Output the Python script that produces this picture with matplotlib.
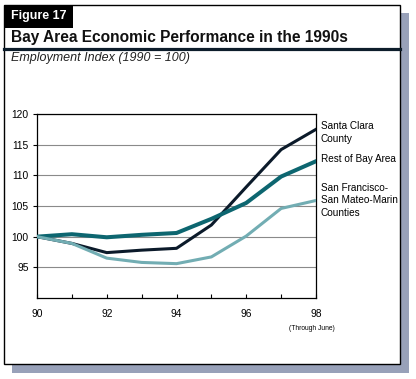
import matplotlib
matplotlib.use("Agg")
from matplotlib import pyplot as plt
from matplotlib.patches import Rectangle
from matplotlib.lines import Line2D

plt.rcParams['font.family'] = ['Liberation Sans', 'DejaVu Sans']

years = [90, 91, 92, 93, 94, 95, 96, 97, 98]
santa_clara = [100, 98.9, 97.4, 97.8, 98.1, 101.9, 108.1, 114.2, 117.5]
rest_bay = [100, 100.4, 99.9, 100.3, 100.6, 102.9, 105.5, 109.8, 112.3]
sf_sm_marin = [100, 98.9, 96.5, 95.8, 95.6, 96.7, 100.1, 104.6, 105.9]

series_names = ["Santa Clara\nCounty", "Rest of Bay Area",
                "San Francisco-\nSan Mateo-Marin\nCounties"]
tick_years = [90, 92, 94, 96, 98]
y_ticks = [95, 100, 105, 110, 115, 120]

W, H = 416, 379
fig = plt.figure(figsize=(W / 100, H / 100), dpi=100)
fig.patch.set_facecolor('white')


def px(x, y):
    # pixel coords (top-left origin) -> figure fraction
    return x / W, 1 - y / H


# Frame with drop shadow
fig.patches.append(Rectangle(px(12, 373), 397 / W, 360 / H, transform=fig.transFigure,
                             facecolor='#98a1b9', edgecolor='none', zorder=0))
fig.patches.append(Rectangle(px(4, 364), 396 / W, 359 / H, transform=fig.transFigure,
                             facecolor='white', edgecolor='black', linewidth=1, zorder=1))

# Figure tab
fig.patches.append(Rectangle(px(4, 28), 69 / W, 23 / H, transform=fig.transFigure,
                             facecolor='black', edgecolor='none', zorder=2))
fig.text(*px(11, 16.5), "Figure 17", color='white', fontsize=9, fontweight='bold',
         va='center', ha='left', zorder=3)

# Title and rule
fig.text(*px(11, 37.5), "Bay Area Economic Performance in the 1990s", fontsize=11.2,
         fontweight='bold', va='center', ha='left', color='#111111')
fig.lines.append(Line2D([4 / W, 400 / W], [1 - 49 / H, 1 - 49 / H], transform=fig.transFigure,
                        color='#0d1d2b', linewidth=2.3, zorder=3))
fig.text(*px(11, 58.5), "Employment Index (1990 = 100)", fontsize=9, style='italic',
         va='center', ha='left', color='#222222')

# Plot area
ax = fig.add_axes([37 / W, 1 - 298 / H, 279 / W, 184 / H])
ax.set_zorder(5)
ax.patch.set_alpha(0)
colors = ['#0b1a2a', '#0d6670', '#72adb3']
widths = [2.2, 2.9, 2.2]
for vals, c, lw in zip([santa_clara, rest_bay, sf_sm_marin], colors, widths):
    ax.plot(years, vals, color=c, linewidth=lw, solid_joinstyle='round', zorder=3)

ax.set_xlim(90, 98)
ax.set_ylim(90, 120)
ax.set_yticks(y_ticks)
ax.set_xticks(years)
ax.set_xticklabels([str(y) if y in tick_years else '' for y in years])
ax.yaxis.grid(True, color='#8a8a8a', linewidth=0.8)
ax.set_axisbelow(True)
for s in ax.spines.values():
    s.set_linewidth(0.9)
ax.tick_params(axis='x', direction='in', length=3, labelsize=7.4, pad=8)
ax.tick_params(axis='y', direction='out', length=3, labelsize=7.4, pad=3)

# Right-side labels
label_y = [117.0, 112.6, 105.9]
for name, v in zip(series_names, label_y):
    ax.text(98.13, v, name, fontsize=7.2, va='center', ha='left', clip_on=False,
            linespacing=1.3)

fig.text(*px(312, 328), "(Through June)", fontsize=4.8, ha='center', va='center')

fig.savefig("out.png", dpi=100)
